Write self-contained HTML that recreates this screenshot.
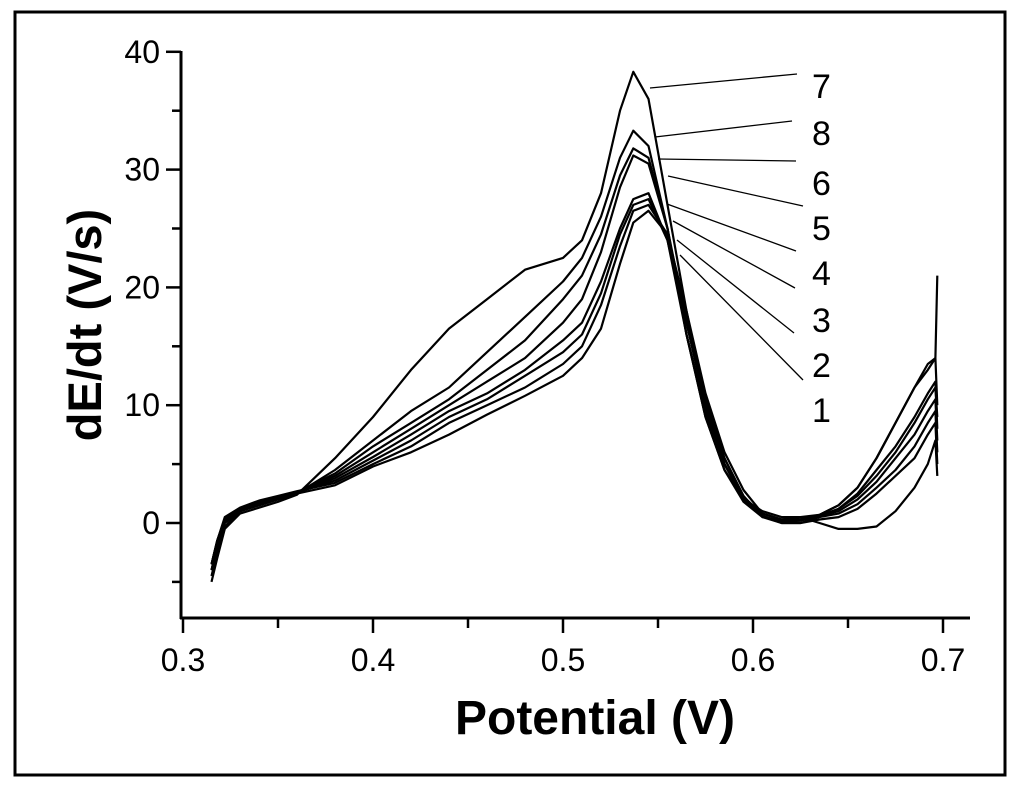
<!DOCTYPE html>
<html><head><meta charset="utf-8"><style>
body{margin:0;background:#fff;}
svg{display:block;font-family:"Liberation Sans",Arial,sans-serif;}
</style></head><body>
<svg id="chart" width="1024" height="790" viewBox="0 0 1024 790">
<rect x="15" y="12" width="990" height="763" fill="#fff" stroke="#000" stroke-width="3"/>
<g id="axes"></g>
<g id="series"></g>
<g id="labels"></g>
<text transform="translate(101,325) rotate(-90)" text-anchor="middle" font-size="47" font-weight="bold">dE/dt (V/s)</text>
<text x="595" y="734" text-anchor="middle" font-size="48" font-weight="bold">Potential (V)</text>
</svg>
<script>
const xVals=[0.315,0.318,0.322,0.33,0.34,0.35,0.36,0.38,0.40,0.42,0.44,0.46,0.48,0.50,0.51,0.52,0.53,0.537,0.545,0.555,0.565,0.575,0.585,0.595,0.605,0.615,0.625,0.635,0.645,0.655,0.665,0.675,0.685,0.692,0.696,0.697];
const seriesNames=["7","8","6","5","4","3","2","1"];
const s7=[-5,-3,-0.5,0.8,1.3,1.8,2.4,5.5,9,13,16.5,19,21.5,22.5,24,28,35,38.3,36,27,18,10,5,2,1,0.5,0.5,0.7,1.5,3,5.5,8.5,11.5,13.5,14,10];
const s8=[-4.5,-2.5,-0.3,1,1.5,2,2.5,4.5,7,9.5,11.5,14.5,17.5,20.5,22.5,26,31,33.3,32,25,16,9,4.5,2,0.8,0.3,0.3,0.7,1.5,3,5.5,8.5,11.5,13,14,21];
const s6=[-4,-2,0,1.2,1.6,2.1,2.6,4.2,6.5,8.5,10.5,13,15.5,19,21,24.5,29.5,31.8,31,25,16,9,4.5,1.8,0.5,0.2,0.2,0.6,1.2,2.5,4.5,6.5,9,11,12,8];
const s5=[-4,-2,0,1,1.6,2.1,2.6,4,6,8,10,12,14,17,19,23,28.5,31.2,30.5,25,17,10,5,2.2,0.8,0.3,0.3,0.6,1.2,2.3,4,6,8.5,10.5,11.5,9];
const s4=[-4,-2,0.2,1.2,1.7,2.2,2.6,3.8,5.6,7.5,9.5,11,13,15.5,17,20.5,25,27.5,28,24,16,9.5,5,2,0.6,0.1,0.2,0.6,1,2,3.5,5.5,7.5,9.5,10.5,7];
const s3=[-3.5,-1.5,0.3,1.2,1.8,2.2,2.6,3.6,5.3,7,9,10.5,12.5,14.5,16,19.5,24.5,27,27.5,24,17,10,5.5,2.2,0.6,0,0,0.5,0.8,1.6,3,4.5,6.5,8.5,9.5,6];
const s2=[-3.5,-1.5,0.5,1.3,1.9,2.3,2.7,3.4,5,6.5,8.5,10,11.5,13.5,15,18.5,23.5,26.5,27,24.5,17.5,10.5,5.5,2.3,0.5,0,0,0.3,0.5,1.2,2.5,4,5.5,7.5,8.5,5];
const s1=[-3.5,-1.5,0.3,1,1.5,2,2.5,3.2,4.8,6,7.5,9.2,10.8,12.5,14,16.5,22,25.5,26.5,24.5,18,11,6,2.8,0.8,0.3,0.5,0,-0.5,-0.5,-0.3,1,3,5,7,4];
const xTicks=[0.3,0.4,0.5,0.6,0.7];
const yTicks=[0,10,20,30,40];
const labelNums=["7","8","6","5","4","3","2","1"];

const NS="http://www.w3.org/2000/svg";
const sx=v=>183+(v-0.3)*1900;
const sy=v=>523-v*11.78;
function mk(t,a,p){const e=document.createElementNS(NS,t);for(const k in a)e.setAttribute(k,a[k]);p.appendChild(e);return e;}
const ax=document.getElementById('axes');
let l=mk('line',{x1:181,y1:51,x2:181,y2:619,stroke:'#000','stroke-width':3},ax);


l=mk('line',{x1:180,y1:618,x2:970,y2:618,stroke:'#000','stroke-width':3},ax);


xTicks.forEach(v=>{
  const t=mk('line',{x1:sx(v),y1:618,x2:sx(v),y2:633,stroke:'#000','stroke-width':2.5},ax);
  
  
  if(v<0.7){
  const m=mk('line',{x1:sx(v+0.05),y1:618,x2:sx(v+0.05),y2:628,stroke:'#000','stroke-width':2.5},ax);
  
  
  }
  const tx=mk('text',{x:sx(v),y:671,'text-anchor':'middle','font-size':32},ax);tx.textContent=v.toFixed(1);
  
  
});
yTicks.forEach(v=>{
  const t=mk('line',{x1:166,y1:sy(v),x2:181,y2:sy(v),stroke:'#000','stroke-width':2.5},ax);
  
  
  const m=mk('line',{x1:172,y1:sy(v-5),x2:181,y2:sy(v-5),stroke:'#000','stroke-width':2.5},ax);
  
  
  const tx=mk('text',{x:160,y:sy(v)+11,'text-anchor':'end','font-size':32},ax);tx.textContent=v;
  
  
});
const all=[s7,s8,s6,s5,s4,s3,s2,s1];
const sg=document.getElementById('series');
all.forEach((s,i)=>{
  const pts=s.map((y,j)=>sx(xVals[j]).toFixed(1)+','+sy(y).toFixed(1)).join(' ');
  const p=mk('polyline',{points:pts,fill:'none',stroke:'#000','stroke-width':2.2,'stroke-linejoin':'round'},sg);
  
  
});
const lg=document.getElementById('labels');
const leaderFrom=[[650,88],[655,137],[658,159],[668,176],[667,204],[673,221],[677,240],[680,255]];
const leaderTo=[[797,74],[792,121],[796,161],[803,206],[796,251],[795,288],[794,333],[803,380]];
const labY=[98,145,195,240,285,332,377,422];
labelNums.forEach((n,i)=>{
  const ln=mk('line',{x1:leaderFrom[i][0],y1:leaderFrom[i][1],x2:leaderTo[i][0],y2:leaderTo[i][1],stroke:'#000','stroke-width':1.3},lg);
  
  
  const t=mk('text',{x:812,y:labY[i],'font-size':34},lg);t.textContent=n;
  
  
});
</script>
</body></html>
